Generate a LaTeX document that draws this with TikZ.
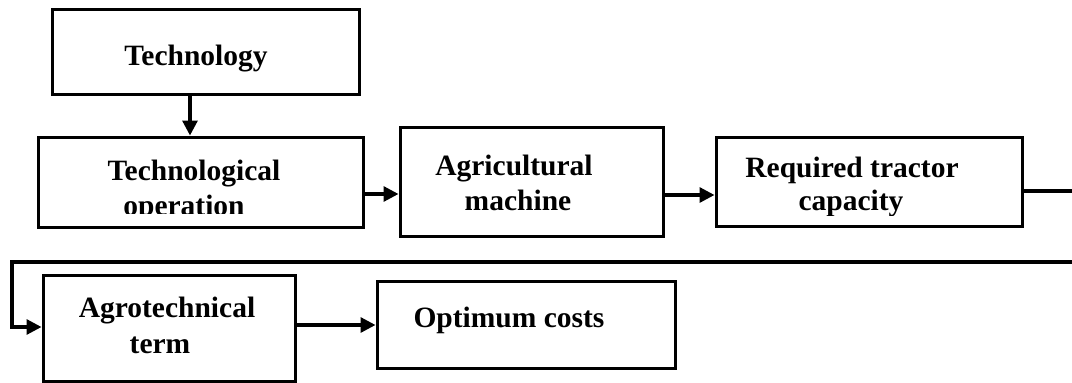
\documentclass[tikz,border=0pt]{standalone}
\usepackage{fontspec}
\setmainfont{Liberation Serif}
\usetikzlibrary{arrows.meta,calc}

\tikzset{
  box/.style={draw=black, line width=3pt, rectangle, inner sep=0pt, fill=white},
  label/.style={font=\fontsize{29.5}{35}\selectfont\bfseries, inner sep=0pt, anchor=base},
  link/.style={line width=3.2pt},
  arr/.style={line width=3.2pt, -{Triangle[length=15pt,width=15pt]}}
}

\begin{document}
\begin{tikzpicture}[x=1pt, y=-1pt]
  % page area
  \fill[white] (0,0) rectangle (1072,383);
  \useasboundingbox (0,0) rectangle (1072,383);

  % boxes
  \node[box, minimum width=307pt, minimum height=85pt]  (tech)   at (205.5,51.5)  {};
  \node[box, minimum width=325pt, minimum height=90pt]  (techop) at (200.5,182)   {};
  \node[box, minimum width=263pt, minimum height=109pt] (agri)   at (531.5,181.5) {};
  \node[box, minimum width=306pt, minimum height=89pt]  (req)    at (869,181.5)   {};
  \node[box, minimum width=252pt, minimum height=106pt] (agro)   at (169,328)     {};
  \node[box, minimum width=298pt, minimum height=87pt]  (opt)    at (526,324.5)   {};

  % box texts
  \node[label] (techT) at (196,65) {Technology};
  \begin{scope}
    \clip (38,137) rectangle (363,213);
    \node[label] (techopA) at (194,180) {Technological};
    \node[label] (techopB) at (184,215) {operation};
  \end{scope}
  \node[label] (agriA) at (514,175) {Agricultural};
  \node[label] (agriB) at (518,210) {machine};
  \begin{scope}
    \clip (716,137) rectangle (1022,215);
    \node[label] (reqA) at (852,177) {Required tractor};
    \node[label] (reqB) at (851,210) {capacity};
  \end{scope}
  \node[label] (agroA) at (167,317) {Agrotechnical};
  \node[label] (agroB) at (160,353) {term};
  \node[label] (optT) at (509,327) {Optimum costs};

  % connectors
  \coordinate (downX) at (190,0);
  \draw[arr] (tech.south -| downX) -- (techop.north -| downX);

  \coordinate (rowA) at (0,194);
  \draw[arr] (techop.east |- rowA) -- (agri.west |- rowA);

  \coordinate (rowB) at (0,195);
  \draw[arr] (agri.east |- rowB) -- (req.west |- rowB);

  % return line leaving the page on the right and coming back below
  \coordinate (outA) at (1072,191);
  \draw[link] (req.east |- outA) -- (outA);

  \coordinate (backA) at (1072,262);
  \coordinate (backB) at (12,262);
  \coordinate (backC) at (12,327);
  \draw[arr] (backA) -- (backB) -- (backC) -- (agro.west |- backC);

  \coordinate (rowC) at (0,325);
  \draw[arr] (agro.east |- rowC) -- (opt.west |- rowC);
\end{tikzpicture}
\end{document}
